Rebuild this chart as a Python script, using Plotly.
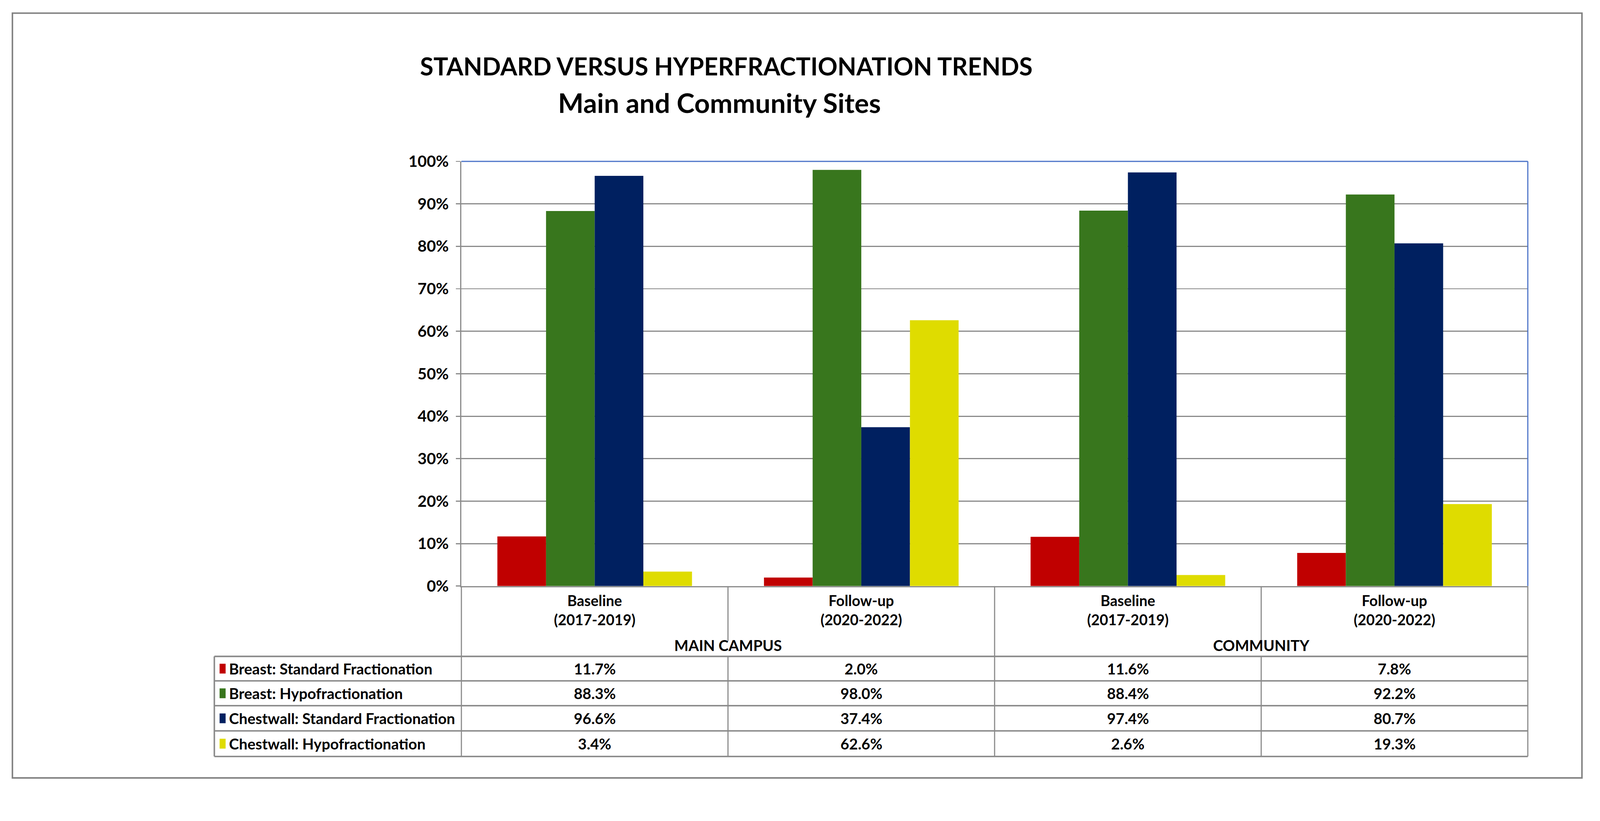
import plotly.graph_objects as go

# ---------------- data ----------------
periods = ["Baseline<br>(2017-2019)", "Follow-up<br>(2020-2022)",
           "Baseline<br>(2017-2019)", "Follow-up<br>(2020-2022)"]
sites = ["MAIN CAMPUS", "COMMUNITY"]
series_names = ["Breast: Standard Fractionation", "Breast: Hypofractionation",
                "Chestwall: Standard Fractionation", "Chestwall: Hypofractionation"]
breast_standard = [11.7, 2.0, 11.6, 7.8]
breast_hypo = [88.3, 98.0, 88.4, 92.2]
chestwall_standard = [96.6, 37.4, 97.4, 80.7]
chestwall_hypo = [3.4, 62.6, 2.6, 19.3]
y_ticks = [0, 10, 20, 30, 40, 50, 60, 70, 80, 90, 100]
y_tick_labels = [f"{v}%" for v in y_ticks]
title_line1 = "STANDARD VERSUS HYPERFRACTIONATION TRENDS"
title_line2 = "Main and Community Sites"

series_values = [breast_standard, breast_hypo, chestwall_standard, chestwall_hypo]
colors = ["#C00000", "#38761D", "#002060", "#DFDC00"]

# ---------------- layout geometry (pixels) ----------------
W, H = 4255, 2101
L, R, T, B = 1227, 4063, 429, 1558
pw, ph = R - L, B - T
FONT = "Lato, 'Noto Sans', sans-serif"
GRAY = "#8A8A8A"


def yp(Y):
    return (B - Y) / ph


def xp(X):
    return (X - L) / pw


n = len(periods)
xs = list(range(n))

fig = go.Figure()
for name, vals, col in zip(series_names, series_values, colors):
    fig.add_trace(go.Bar(x=xs, y=vals, name=name, marker=dict(color=col, line=dict(width=0)),
                         showlegend=False))

shapes = []
annotations = []

# outer border
shapes.append(dict(type="rect", xref="paper", yref="paper", x0=xp(33), x1=xp(4207),
                   y0=yp(2068), y1=yp(35), line=dict(color="#808080", width=4), layer="below"))
# plot area top/right (blue)
shapes.append(dict(type="line", xref="paper", yref="paper", x0=0, x1=1, y0=1, y1=1,
                   line=dict(color="#4A72C8", width=3), layer="above"))
shapes.append(dict(type="line", xref="paper", yref="paper", x0=1, x1=1, y0=0, y1=1,
                   line=dict(color="#4A72C8", width=3), layer="above"))

row_edges = [1745, 1810, 1876, 1943, 2011]
label_bottom = 1704

# vertical dividers under the plot
for k in range(n + 1):
    xk = k / n
    if k % 2 == 0:
        shapes.append(dict(type="line", xref="paper", yref="paper", x0=xk, x1=xk,
                           y0=yp(row_edges[-1]), y1=0, line=dict(color=GRAY, width=3)))
    else:
        shapes.append(dict(type="line", xref="paper", yref="paper", x0=xk, x1=xk,
                           y0=yp(label_bottom), y1=0, line=dict(color=GRAY, width=3)))
        shapes.append(dict(type="line", xref="paper", yref="paper", x0=xk, x1=xk,
                           y0=yp(row_edges[-1]), y1=yp(row_edges[0]), line=dict(color=GRAY, width=3)))

# table horizontal lines and left edge
for Y in row_edges:
    shapes.append(dict(type="line", xref="paper", yref="paper", x0=xp(570), x1=1,
                       y0=yp(Y), y1=yp(Y), line=dict(color=GRAY, width=4)))
shapes.append(dict(type="line", xref="paper", yref="paper", x0=xp(570), x1=xp(570),
                   y0=yp(row_edges[-1]), y1=yp(row_edges[0]), line=dict(color=GRAY, width=4)))

# title (two lines)
annotations.append(dict(x=xp(1931), xref="paper", y=yp(176), yref="paper", text="<b>" + title_line1 + "</b>",
                        showarrow=False, xanchor="center", yanchor="middle",
                        font=dict(family=FONT, size=65, color="black")))
annotations.append(dict(x=xp(1913), xref="paper", y=yp(272), yref="paper", text="<b>" + title_line2 + "</b>",
                        showarrow=False, xanchor="center", yanchor="middle",
                        font=dict(family=FONT, size=72, color="black")))

# period labels
for i, p in enumerate(periods):
    annotations.append(dict(x=i, xref="x", y=yp(1621), yref="paper",
                            text="<b>" + p.replace("<br>", "</b><br><b>") + "</b>",
                            showarrow=False, xanchor="center", yanchor="middle",
                            font=dict(family=FONT, size=39, color="black")))
# site labels
for j, s in enumerate(sites):
    annotations.append(dict(x=2 * j + 0.5, xref="x", y=yp(1716), yref="paper", text="<b>" + s + "</b>",
                            showarrow=False, xanchor="center", yanchor="middle",
                            font=dict(family=FONT, size=40, color="black")))

# table rows
for r, (name, vals, col) in enumerate(zip(series_names, series_values, colors)):
    yc = (row_edges[r] + row_edges[r + 1]) / 2
    shapes.append(dict(type="rect", xref="paper", yref="paper", x0=xp(584), x1=xp(600),
                       y0=yp(yc + 13), y1=yp(yc - 13), fillcolor=col, line=dict(width=0)))
    annotations.append(dict(x=xp(607), xref="paper", y=yp(yc), yref="paper", text="<b>" + name + "</b>",
                            showarrow=False, xanchor="left", yanchor="middle",
                            font=dict(family=FONT, size=40, color="black")))
    for i, v in enumerate(vals):
        annotations.append(dict(x=i, xref="x", y=yp(yc), yref="paper", text="<b>%.1f%%</b>" % v,
                                showarrow=False, xanchor="center", yanchor="middle",
                                font=dict(family=FONT, size=40, color="black")))

fig.update_layout(
    width=W, height=H,
    margin=dict(l=L, r=W - R, t=T, b=H - B),
    paper_bgcolor="white", plot_bgcolor="white",
    barmode="group", bargap=0.27, bargroupgap=0,
    xaxis=dict(range=[-0.5, n - 0.5], showticklabels=False, ticks="", showgrid=False, zeroline=False,
               showline=True, linecolor=GRAY, linewidth=3, fixedrange=True),
    yaxis=dict(range=[0, 100], tickmode="array", tickvals=y_ticks, ticktext=y_tick_labels,
               showgrid=True, gridcolor=GRAY, gridwidth=3,
               zeroline=False, showline=True, linecolor=GRAY, linewidth=3, ticks="outside", ticklen=12,
               tickwidth=3, tickcolor=GRAY, ticklabelstandoff=10,
               tickfont=dict(family=FONT, size=42, color="black", weight="bold"), fixedrange=True),
    shapes=shapes, annotations=annotations,
)

post = """
document.body.style.margin='0';
document.body.style.overflow='hidden';
var gd = document.getElementById('{plot_id}');
var s = Math.min(window.innerWidth / %d, window.innerHeight / %d);
if (s < 0.999) { gd.style.transform = 'scale(' + s + ')'; gd.style.transformOrigin = '0 0'; }
""" % (W, H)

fig.write_html("out.html", post_script=post, config={"displayModeBar": False})
